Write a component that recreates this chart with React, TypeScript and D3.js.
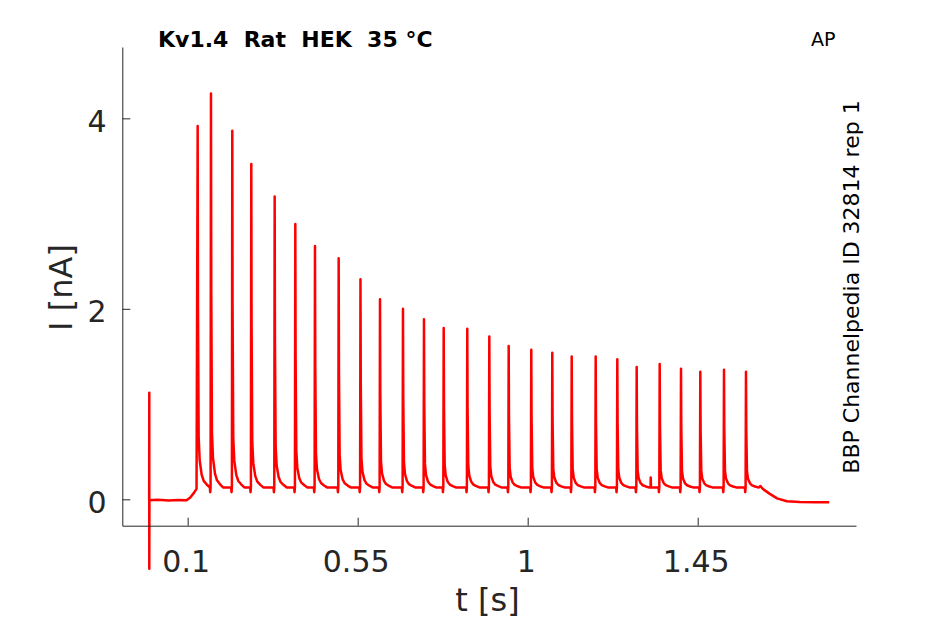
import * as d3 from "d3";
import { useEffect, useRef } from "react";

const width = 945;
const height = 624;

// AP-clamp response, values
const spikeTimes = [
  0.1265, 0.1617, 0.2181, 0.2684, 0.3303, 0.3849, 0.437, 0.4997, 0.5574,
  0.6091, 0.6699, 0.7255, 0.7777, 0.8401, 0.8984, 0.9497, 1.0095, 1.0651,
  1.1165, 1.18, 1.2372, 1.2885, 1.3494, 1.4058, 1.4569, 1.5196, 1.5778,
];
const spikePeaks = [
  3.92, 4.26, 3.87, 3.52, 3.18, 2.89, 2.66, 2.53, 2.31, 2.1, 2.0, 1.89, 1.8,
  1.79, 1.71, 1.61, 1.57, 1.54, 1.5, 1.5, 1.47, 1.39, 1.42, 1.37, 1.34, 1.36,
  1.34,
];
const plateau = 0.125;

// decay after each peak: [ms after peak, fraction of height above plateau]
const tailShape = [
  [0.8, 0.5],
  [2.6, 0.14],
  [5.3, 0.075],
  [10.6, 0.035],
  [16, 0.018],
  [24, 0.008],
  [32, 0],
];
// small notch just before each peak: [ms before peak, nA offset]
const preShape = [
  [-3, 0],
  [-2, -0.05],
  [-1, 0],
];

// stimulus artifact at onset
const artifact = [
  [-0.0019, -0.01],
  [-0.0016, 1.12],
  [-0.0016, -0.73],
  [-0.0012, -0.01],
];
const startKnots = [
  [0.02, -0.005],
  [0.05, -0.012],
  [0.075, -0.006],
  [0.097, -0.01],
  [0.107, 0.02],
  [0.117, 0.07],
  [0.1235, 0.11],
];
const smallBump = [1.3257, 0.23];
const endKnots = [
  [1.612, 0.125],
  [1.616, 0.14],
  [1.622, 0.11],
  [1.64, 0.06],
  [1.66, 0.01],
  [1.686, -0.02],
  [1.72, -0.028],
  [1.76, -0.03],
  [1.798, -0.03],
];

const xTicks = [0.1, 0.55, 1, 1.45];
const yTicks = [0, 2, 4];

function buildTrace(): [number, number][] {
  const pts: [number, number][] = [];
  artifact.forEach((p) => pts.push([p[0], p[1]]));
  startKnots.forEach((p) => pts.push([p[0], p[1]]));
  spikeTimes.forEach((t0, i) => {
    const a = spikePeaks[i] - plateau;
    if (i > 0) preShape.forEach(([ms, v]) => pts.push([t0 + ms / 1000, plateau + v]));
    pts.push([t0, spikePeaks[i]]);
    tailShape.forEach(([ms, f]) => pts.push([t0 + ms / 1000, plateau + a * f]));
    if (i + 1 < spikeTimes.length && smallBump[0] > t0 && smallBump[0] < spikeTimes[i + 1]) {
      pts.push([smallBump[0] - 0.0005, plateau]);
      pts.push([smallBump[0], smallBump[1]]);
      pts.push([smallBump[0] + 0.0007, plateau]);
    }
  });
  endKnots.forEach((p) => pts.push([p[0], p[1]]));
  return pts;
}

export default function App() {
  const svgRef = useRef<SVGSVGElement | null>(null);

  useEffect(() => {
    if (!svgRef.current) return;
    const svg = d3.select(svgRef.current);
    svg.selectAll("*").remove();

    const x = d3.scaleLinear().domain([-0.073, 1.869]).range([122.3, 856]);
    const y = d3.scaleLinear().domain([-0.277, 4.749]).range([525.7, 47]);
    const axisColor = "#262626";
    const font = "'DejaVu Sans', sans-serif";

    // trace
    const line = d3
      .line<[number, number]>()
      .x((d) => x(d[0]))
      .y((d) => y(d[1]));
    svg
      .append("path")
      .attr("d", line(buildTrace()))
      .attr("fill", "none")
      .attr("stroke", "#ff0000")
      .attr("stroke-width", 2.5)
      .attr("stroke-linejoin", "round");

    // axes, ticks point inward
    const xAxis = svg
      .append("g")
      .attr("transform", `translate(0,${y.range()[0]})`)
      .call(d3.axisBottom(x).tickValues(xTicks).tickSizeInner(-8).tickSizeOuter(0).tickFormat((d) => String(d)));
    const yAxis = svg
      .append("g")
      .attr("transform", `translate(${x.range()[0]},0)`)
      .call(d3.axisLeft(y).tickValues(yTicks).tickSizeInner(-8).tickSizeOuter(0).tickFormat((d) => String(d)));

    [xAxis, yAxis].forEach((g) => {
      g.select(".domain").attr("stroke", axisColor);
      g.selectAll(".tick line").attr("stroke", axisColor);
      g.selectAll(".tick text")
        .attr("fill", axisColor)
        .attr("font-family", font)
        .attr("font-size", 30);
    });
    xAxis.selectAll(".tick text").attr("y", 46.8).attr("dy", 0).attr("dx", -2);
    yAxis.selectAll(".tick text").attr("x", -15.6).attr("y", 13).attr("dy", 0);

    // labels
    svg
      .append("text")
      .attr("x", 487.5)
      .attr("y", 611)
      .attr("text-anchor", "middle")
      .attr("font-family", font)
      .attr("font-size", 32)
      .attr("fill", axisColor)
      .text("t [s]");

    svg
      .append("text")
      .attr("transform", "translate(71.5,287.5) rotate(-90)")
      .attr("text-anchor", "middle")
      .attr("font-family", font)
      .attr("font-size", 32)
      .attr("fill", axisColor)
      .text("I [nA]");

    svg
      .append("text")
      .attr("x", 158)
      .attr("y", 47)
      .attr("font-family", font)
      .attr("font-weight", "bold")
      .attr("font-size", 22)
      .attr("fill", "#000")
      .style("white-space", "pre")
      .text("Kv1.4  Rat  HEK  35 °C");

    svg
      .append("text")
      .attr("x", 811)
      .attr("y", 46)
      .attr("font-family", font)
      .attr("font-size", 19)
      .attr("fill", "#000")
      .text("AP");

    svg
      .append("text")
      .attr("transform", "translate(859,287) rotate(-90)")
      .attr("text-anchor", "middle")
      .attr("font-family", font)
      .attr("font-size", 22)
      .attr("fill", "#000")
      .text("BBP Channelpedia ID 32814 rep 1");
  }, []);

  return (
    <svg
      ref={svgRef}
      width={width}
      height={height}
      style={{ position: "absolute", left: 0, top: 0, background: "#fff" }}
    />
  );
}
